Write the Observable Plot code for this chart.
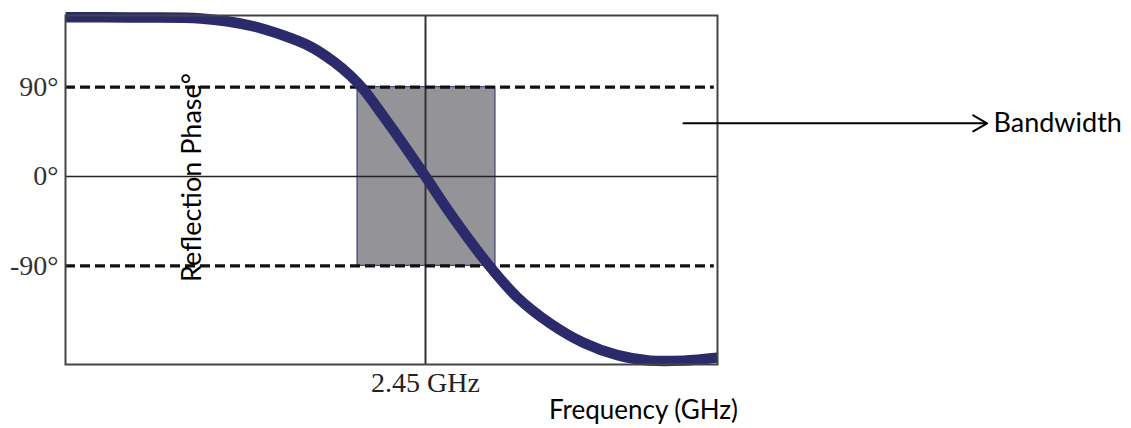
<!DOCTYPE html>
<html>
<head>
<meta charset="utf-8">
<script src="https://cdn.jsdelivr.net/npm/d3@7"></script>
<script src="https://cdn.jsdelivr.net/npm/@observablehq/plot@0.6"></script>
<style>
  html, body { margin: 0; padding: 0; background: #fff; }
  #chart svg { display: block; }
</style>
</head>
<body>
<div id="chart"></div>
<script>
// Reflection phase curve (frequency in GHz, phase in degrees)
const freq  = [2.000, 2.081, 2.169, 2.231, 2.2725, 2.306, 2.335, 2.356, 2.3725, 2.3975, 2.419, 2.450, 2.481, 2.5275, 2.565, 2.606, 2.6475, 2.690, 2.731, 2.7725, 2.815];
const phase = [160.5, 160.2, 159.2, 152.1, 142.0, 131.0, 115.9, 101.8, 87.7, 60.5, 36.3, 0, -37.3, -87.7, -121.9, -148.1, -167.5, -180.0, -185.5, -185.5, -182.5];

// Band where phase is within ±90°
const bandLow = 2.365;
const bandHigh = 2.5375;
const bandPhase = [-90, 90];

const yTicks = [90, 0, -90];
const xTicks = [2.45];
const xTickLabel = "2.45 GHz";
const xLabel = "Frequency (GHz)";
const yLabel = "Reflection Phase°";
const annotation = "Bandwidth";

const curve = freq.map((f, i) => ({f, p: phase[i]}));

const serif = "Liberation Serif, Times New Roman, serif";
const sans = "Lato, Open Sans, sans-serif";

const chart = Plot.plot({
  width: 1131,
  height: 428,
  marginLeft: 65,
  marginRight: 414,
  marginTop: 15,
  marginBottom: 64,
  x: {domain: [2.0, 2.815]},
  y: {domain: [-189.4, 162.2]},
  style: {background: "#fff", overflow: "visible"},
  marks: [
    Plot.rect([{x1: bandLow, x2: bandHigh, y1: bandPhase[0], y2: bandPhase[1]}],
      {x1: "x1", x2: "x2", y1: "y1", y2: "y2", fill: "#939398", stroke: "#2b2a6b", strokeWidth: 1}),
    Plot.ruleY([0], {stroke: "#222", strokeWidth: 1.5}),
    Plot.ruleX(xTicks, {stroke: "#333", strokeWidth: 2}),
    Plot.ruleY([90, -90], {x1: 2.0, x2: 2.811, stroke: "#111", strokeWidth: 3.2, strokeDasharray: "10,5"}),
    Plot.line(curve, {x: "f", y: "p", stroke: "#2b2a6b", strokeWidth: 10.5, curve: "catmull-rom", strokeLinecap: "butt"}),
    Plot.frame({stroke: "#444", strokeWidth: 2}),
    Plot.axisY(yTicks, {tickSize: 0, tickPadding: 7, tickFormat: d => d + "°", fontSize: 28, fontFamily: serif, fill: "#333", label: null}),
    Plot.axisX(xTicks, {tickSize: 0, tickPadding: 8, tickFormat: () => xTickLabel, fontSize: 28, fontFamily: serif, fill: "#222", label: null}),
    Plot.text([yLabel], {x: 2.159, y: -1, text: d => d, rotate: -90, fontSize: 27, fontFamily: sans, fill: "#000"}),
    Plot.text([xLabel], {x: 2.7225, y: -236, text: d => d, fontSize: 26, fontFamily: sans, fill: "#000"}),
    Plot.arrow([{}], {x1: 2.7725, y1: 53.6, x2: 3.152, y2: 53.6, stroke: "#000", strokeWidth: 2, headLength: 12, bend: false}),
    Plot.text([annotation], {x: 3.16, y: 54, text: d => d, textAnchor: "start", fontSize: 27, fontFamily: sans, fill: "#000"})
  ]
});
document.getElementById("chart").appendChild(chart);
</script>
</body>
</html>
